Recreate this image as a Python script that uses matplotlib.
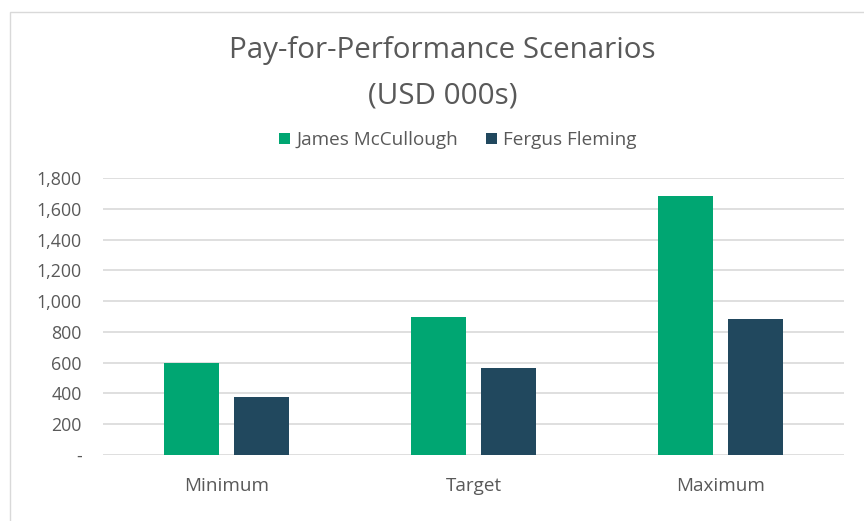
import matplotlib
matplotlib.use('Agg')
from matplotlib import pyplot as plt
from matplotlib.ticker import FuncFormatter
from matplotlib.patches import Rectangle
import numpy as np

categories = ['Minimum', 'Target', 'Maximum']
series_names = ['James McCullough', 'Fergus Fleming']
mccullough = [600, 900, 1684]
fleming = [375, 567, 884]
colors = ['#00a672', '#21485e']

plt.rcParams['font.family'] = ['Open Sans', 'DejaVu Sans']
text_color = '#595959'

fig = plt.figure(figsize=(8.64, 5.21), dpi=100)
ax = fig.add_axes([0.119, 0.1267, 0.858, 0.5315])

x = np.arange(len(categories))
width = 0.223
offset = 0.142
ax.bar(x - offset, mccullough, width, color=colors[0], label=series_names[0], zorder=3)
ax.bar(x + offset, fleming, width, color=colors[1], label=series_names[1], zorder=3)

ax.set_xlim(-0.5, 2.5)
ax.set_ylim(0, 1800)
ax.set_yticks(np.arange(0, 1801, 200))
ax.yaxis.set_major_formatter(FuncFormatter(lambda v, p: '-' if v == 0 else f'{int(v):,}'))
ax.set_xticks(x)
ax.set_xticklabels(categories)
ax.grid(axis='y', color='#d9d9d9', linewidth=1.2, zorder=0)
ax.tick_params(axis='both', length=0, colors=text_color)
ax.tick_params(axis='y', pad=15, labelsize=12.8)
ax.tick_params(axis='x', pad=16, labelsize=13.6)
for name, spine in ax.spines.items():
    spine.set_visible(False)

fig.text(0.512, 0.904, 'Pay-for-Performance Scenarios', ha='center', va='center',
         fontsize=21.3, color=text_color)
fig.text(0.512, 0.815, '(USD 000s)', ha='center', va='center',
         fontsize=21.3, color=text_color)

ax.legend(loc='center', bbox_to_anchor=(0.53, 0.731), bbox_transform=fig.transFigure,
          ncol=2, frameon=False, fontsize=13.6, labelcolor=text_color,
          handlelength=0.55, handleheight=0.55, handletextpad=0.35, columnspacing=1.5)

fig.patches.append(Rectangle((10 / 864, -0.1), 1.2, 1.1 - 12 / 521,
                             transform=fig.transFigure, fill=False,
                             edgecolor='#d9d9d9', linewidth=1))

fig.savefig('out.png', dpi=100)
